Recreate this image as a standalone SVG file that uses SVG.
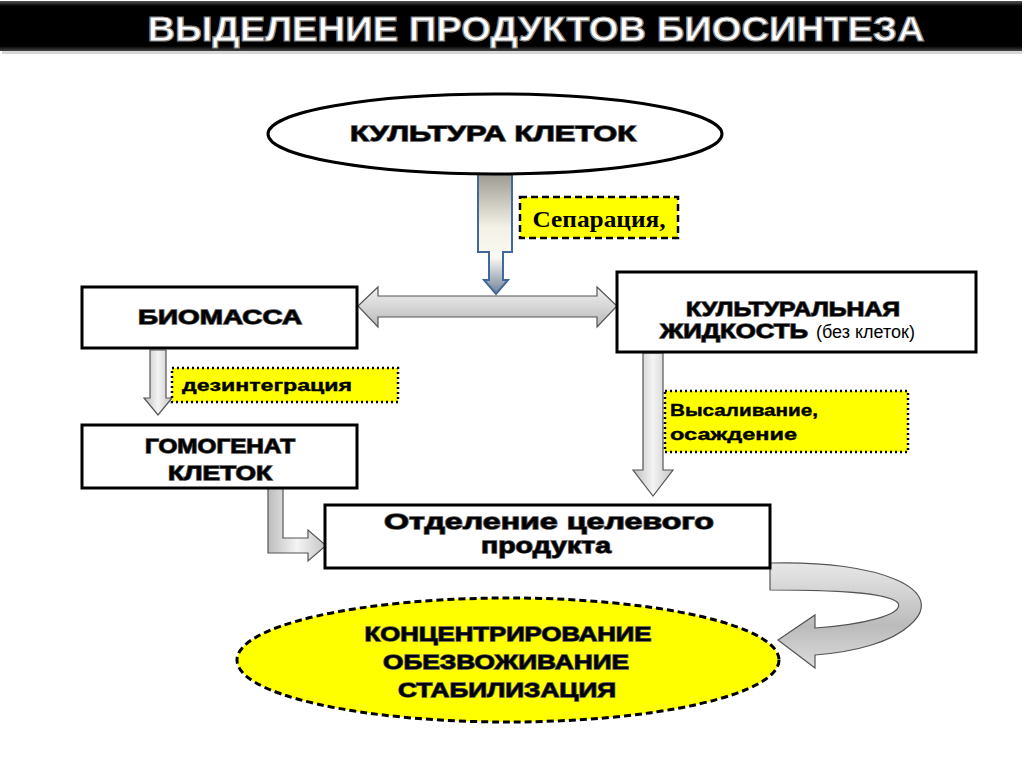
<svg xmlns="http://www.w3.org/2000/svg" width="1024" height="767" viewBox="0 0 1024 767">
<defs>
<linearGradient id="gv" x1="0" y1="0" x2="1" y2="0"><stop offset="0" stop-color="#bdbdbd"/><stop offset="0.5" stop-color="#f4f4f4"/><stop offset="1" stop-color="#c4c4c4"/></linearGradient>
<linearGradient id="gh" x1="0" y1="0" x2="0" y2="1"><stop offset="0" stop-color="#f0f0f0"/><stop offset="0.5" stop-color="#d6d6d6"/><stop offset="1" stop-color="#b8b8b8"/></linearGradient>
<linearGradient id="gt" x1="0" y1="0" x2="0" y2="1"><stop offset="0" stop-color="#9a978e"/><stop offset="0.45" stop-color="#f3f1e6"/><stop offset="0.7" stop-color="#fbfaf2"/><stop offset="1" stop-color="#6f7f99"/></linearGradient>
<linearGradient id="gc" x1="0" y1="0" x2="0" y2="1"><stop offset="0" stop-color="#e8e8e8"/><stop offset="0.6" stop-color="#bbbbbb"/><stop offset="1" stop-color="#dcdcdc"/></linearGradient>
<linearGradient id="gbar" x1="0" y1="0" x2="0" y2="1"><stop offset="0" stop-color="#555"/><stop offset="0.1" stop-color="#000"/><stop offset="0.9" stop-color="#000"/><stop offset="1" stop-color="#444"/></linearGradient>
<style>
.box{fill:#fff;stroke:#000;stroke-width:3}
.arr{stroke:#555;stroke-width:1.2}
.lbl{fill:#ff0;stroke:#000;stroke-width:2.5}
.dot{stroke-dasharray:2 3}
.dash{stroke-dasharray:7 4}
.t{font-family:"Liberation Sans",Arial,sans-serif;font-weight:bold;fill:#000;stroke:#555;stroke-width:1.3;paint-order:stroke}
.tn{font-family:"Liberation Sans",Arial,sans-serif;fill:#000}
.tb{font-family:"Liberation Sans",Arial,sans-serif;font-weight:bold;fill:#000;stroke:#000;stroke-width:0.4}
</style>
</defs>
<rect width="1024" height="767" fill="#fff"/>
<g id="title">
<rect x="2" y="4" width="1020" height="50" fill="#bbb" opacity="0.6"/>
<rect x="0" y="1" width="1022" height="50" fill="url(#gbar)"/>
<text x="536" y="41" text-anchor="middle" font-family="Liberation Sans,Arial,sans-serif" font-weight="bold" font-size="35" fill="#fff" stroke="#888" stroke-width="1.2" textLength="777" lengthAdjust="spacingAndGlyphs">ВЫДЕЛЕНИЕ ПРОДУКТОВ БИОСИНТЕЗА</text>
</g>
<g id="connectors">
<path d="M478,172 L512,172 L512,252 L503,252 L503,280 L508,280 L496,294 L484,280 L489,280 L489,252 L478,252 Z" fill="url(#gt)" stroke="#41689c" stroke-width="2"/>
<path class="arr" d="M358,306 L378,287 L378,296 L597,296 L597,287 L617,306 L597,327 L597,317 L378,317 L378,327 Z" fill="url(#gh)"/>
<path class="arr" d="M150,350 L166,350 L166,398 L172,398 L158,415 L144,398 L150,398 Z" fill="url(#gv)"/>
<path class="arr" d="M643,353 L663,353 L663,470 L673,470 L653,496 L633,470 L643,470 Z" fill="url(#gv)"/>
<path class="arr" d="M268,488 L283,488 L283,538 L308,538 L308,530 L326,545.5 L308,561 L308,553 L268,553 Z" fill="url(#gv)"/>
<path class="arr" d="M770,563 C880,560 950,590 910,625 C892,642 855,652 815,655 L815,668 L778,640 L815,615 L815,628 C860,625 905,615 898,603 C888,592 830,590 770,590 Z" fill="url(#gc)"/>
</g>
<g id="culture">
<ellipse cx="495" cy="134" rx="227" ry="40" fill="#fff" stroke="#000" stroke-width="3"/>
<text class="t" x="493" y="141" text-anchor="middle" font-size="22" textLength="286" lengthAdjust="spacingAndGlyphs">КУЛЬТУРА  КЛЕТОК</text>
</g>
<g id="separation">
<rect class="lbl dash" x="520" y="197" width="158" height="41"/>
<text x="599" y="227" text-anchor="middle" font-family="Liberation Serif,Times New Roman,serif" font-weight="bold" font-size="23" fill="#000" textLength="133" lengthAdjust="spacingAndGlyphs">Сепарация,</text>
</g>
<g id="biomass">
<rect class="box" x="82" y="287" width="275" height="61"/>
<text class="t" x="220" y="324" text-anchor="middle" font-size="20" textLength="164" lengthAdjust="spacingAndGlyphs">БИОМАССА</text>
</g>
<g id="liquid">
<rect class="box" x="617" y="272" width="359" height="80"/>
<text class="t" x="793" y="316" text-anchor="middle" font-size="20" textLength="214" lengthAdjust="spacingAndGlyphs">КУЛЬТУРАЛЬНАЯ</text>
<text x="660" y="338"><tspan class="t" font-size="20" textLength="148" lengthAdjust="spacingAndGlyphs">ЖИДКОСТЬ</tspan><tspan class="tn" font-size="18" dx="8">(без клеток)</tspan></text>
</g>
<g id="disint">
<rect class="lbl dot" x="172" y="368" width="226" height="34"/>
<text class="tb" x="182" y="391" font-size="17" textLength="170" lengthAdjust="spacingAndGlyphs">дезинтеграция</text>
</g>
<g id="homogenate">
<rect class="box" x="82" y="425" width="275" height="63"/>
<text class="t" x="220" y="453" text-anchor="middle" font-size="20" textLength="150" lengthAdjust="spacingAndGlyphs">ГОМОГЕНАТ</text>
<text class="t" x="220" y="480" text-anchor="middle" font-size="20" textLength="104" lengthAdjust="spacingAndGlyphs">КЛЕТОК</text>
</g>
<g id="salting">
<rect class="lbl dot" x="665" y="391" width="243" height="61"/>
<text class="tb" x="670" y="416" font-size="17" textLength="148" lengthAdjust="spacingAndGlyphs">Высаливание,</text>
<text class="tb" x="670" y="440" font-size="17" textLength="127" lengthAdjust="spacingAndGlyphs">осаждение</text>
</g>
<g id="separate-product">
<rect class="box" x="325" y="505" width="445" height="63"/>
<text class="t" x="549" y="529" text-anchor="middle" font-size="22" textLength="330" lengthAdjust="spacingAndGlyphs">Отделение целевого</text>
<text class="t" x="546" y="553" text-anchor="middle" font-size="22" textLength="130" lengthAdjust="spacingAndGlyphs">продукта</text>
</g>
<g id="concentrate">
<ellipse class="dash" cx="508" cy="660" rx="271" ry="62" fill="#ff0" stroke="#000" stroke-width="3"/>
<text class="t" x="508" y="641" text-anchor="middle" font-size="21" textLength="287" lengthAdjust="spacingAndGlyphs">КОНЦЕНТРИРОВАНИЕ</text>
<text class="t" x="506" y="669" text-anchor="middle" font-size="21" textLength="246" lengthAdjust="spacingAndGlyphs">ОБЕЗВОЖИВАНИЕ</text>
<text class="t" x="507" y="697" text-anchor="middle" font-size="21" textLength="218" lengthAdjust="spacingAndGlyphs">СТАБИЛИЗАЦИЯ</text>
</g>
</svg>
